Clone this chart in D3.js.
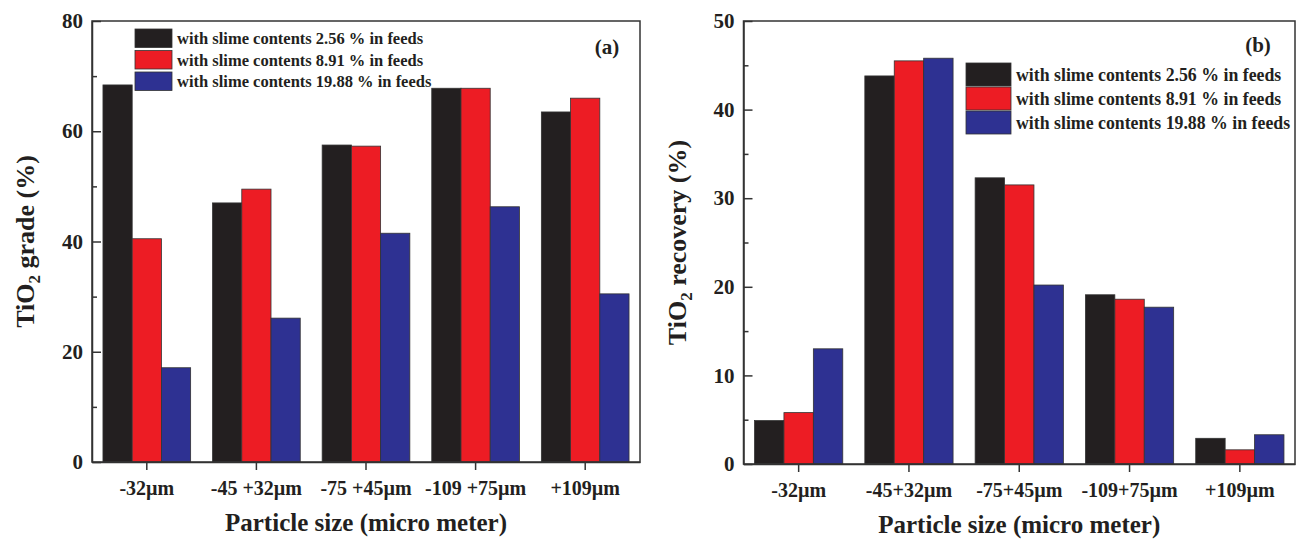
<!DOCTYPE html>
<html>
<head>
<meta charset="utf-8">
<script src="https://cdn.jsdelivr.net/npm/d3@7"></script>
<style>
  body { margin: 0; background: #fff; }
  svg { display: block; font-family: "Liberation Serif", "Times New Roman", serif; font-weight: bold; }
</style>
</head>
<body>
<svg id="chart" width="1298" height="539"></svg>
<script>
// legend texts and bar colours
const seriesLabels = ["with slime contents 2.56 % in feeds", "with slime contents 8.91 % in feeds", "with slime contents 19.88 % in feeds"];
const seriesColors = ["#231f20", "#ed1c24", "#2e3192"];

// panel (a) - TiO2 grade
const sizesA = ["-32µm", "-45 +32µm", "-75 +45µm", "-109 +75µm", "+109µm"];
const grade256 = [68.4, 47.0, 57.5, 67.8, 63.5];
const grade891 = [40.5, 49.5, 57.3, 67.8, 66.0];
const grade1988 = [17.1, 26.1, 41.5, 46.3, 30.5];
const gradeTicks = [0, 20, 40, 60, 80];
const gradeMinor = [10, 30, 50, 70];

// panel (b) - TiO2 recovery
const sizesB = ["-32µm", "-45+32µm", "-75+45µm", "-109+75µm", "+109µm"];
const recovery256 = [4.9, 43.8, 32.3, 19.1, 2.9];
const recovery891 = [5.8, 45.5, 31.5, 18.6, 1.6];
const recovery1988 = [13.0, 45.8, 20.2, 17.7, 3.3];
const recoveryTicks = [0, 10, 20, 30, 40, 50];
const recoveryMinor = [5, 15, 25, 35, 45];

const svg = d3.select("#chart");
const ink = "#333";

function drawPanel(p) {
  const g = svg.append("g");
  // scales
  const x0 = d3.scaleBand().domain(p.cats).range([p.left, p.right])
    .paddingInner(0.2).paddingOuter(0.1);
  const x1 = d3.scaleBand().domain(d3.range(p.series.length)).range([0, x0.bandwidth()]);
  const y = d3.scaleLinear().domain([0, p.yMax]).range([p.bottom, p.top]);

  // bars
  p.series.forEach((vals, s) => {
    g.append("g").selectAll("rect").data(vals).join("rect")
      .attr("x", (d, i) => x0(p.cats[i]) + x1(s))
      .attr("y", d => y(d))
      .attr("width", x1.bandwidth())
      .attr("height", d => y(0) - y(d))
      .attr("fill", seriesColors[s])
      .attr("stroke", ink).attr("stroke-width", 0.8);
  });

  // y axis, ticks pointing inward
  const yAxis = g.append("g").attr("transform", `translate(${p.left},0)`)
    .call(d3.axisLeft(y).tickValues(p.ticks).tickSize(-9).tickSizeOuter(0).tickPadding(9));
  yAxis.selectAll("text").attr("font-size", 21).attr("font-family", null).attr("fill", "#231f20");
  yAxis.attr("font-family", null);
  g.append("g").attr("transform", `translate(${p.left},0)`)
    .call(d3.axisLeft(y).tickValues(p.minor).tickSize(-5).tickSizeOuter(0).tickFormat(""))
    .select(".domain").remove();

  // x axis
  const xAxis = g.append("g").attr("transform", `translate(0,${p.bottom})`)
    .call(d3.axisBottom(x0).tickSize(8).tickSizeOuter(0).tickPadding(11));
  xAxis.attr("font-family", null);
  xAxis.selectAll("text").attr("font-size", 20).attr("fill", "#231f20");

  g.selectAll(".tick line, .domain").attr("stroke", ink).attr("stroke-width", 1.5);

  // frame
  g.append("rect").attr("x", p.left).attr("y", p.top)
    .attr("width", p.right - p.left).attr("height", p.bottom - p.top)
    .attr("fill", "none").attr("stroke", ink).attr("stroke-width", 1.5);

  // axis titles
  g.append("text").attr("x", (p.left + p.right) / 2).attr("y", p.bottom + 69)
    .attr("text-anchor", "middle").attr("font-size", 25).attr("fill", "#231f20")
    .text("Particle size (micro meter)");
  const yt = g.append("text")
    .attr("transform", `translate(${p.titleX},${(p.top + p.bottom) / 2}) rotate(-90)`)
    .attr("text-anchor", "middle").attr("font-size", 26).attr("fill", "#231f20");
  yt.append("tspan").text("TiO");
  yt.append("tspan").attr("font-size", 17).attr("dy", 6).text("2");
  yt.append("tspan").attr("dy", -6).text(" " + p.yTitle);

  // panel letter
  g.append("text").attr("x", p.tagX).attr("y", p.tagY)
    .attr("text-anchor", "middle").attr("font-size", 21).attr("fill", "#231f20").text(p.tag);

  // legend
  const lg = g.append("g").attr("transform", `translate(${p.legX},${p.legY})`);
  seriesLabels.forEach((lab, s) => {
    lg.append("rect").attr("x", 0).attr("y", s * p.legStep)
      .attr("width", p.boxW).attr("height", p.boxH)
      .attr("fill", seriesColors[s]).attr("stroke", ink).attr("stroke-width", 0.8);
    lg.append("text").attr("x", p.boxW + 5).attr("y", s * p.legStep + p.boxH / 2)
      .attr("dy", "0.35em").attr("font-size", p.legFont).attr("fill", "#231f20").text(lab);
  });
}

drawPanel({
  cats: sizesA, series: [grade256, grade891, grade1988], yMax: 80,
  ticks: gradeTicks, minor: gradeMinor,
  left: 92, right: 640, top: 21, bottom: 462,
  titleX: 34, yTitle: "grade (%)", tag: "(a)", tagX: 607, tagY: 54,
  legX: 135, legY: 29, legStep: 21.5, boxW: 37, boxH: 18.5, legFont: 16.5
});

drawPanel({
  cats: sizesB, series: [recovery256, recovery891, recovery1988], yMax: 50,
  ticks: recoveryTicks, minor: recoveryMinor,
  left: 743.5, right: 1295, top: 21, bottom: 464,
  titleX: 686, yTitle: "recovery (%)", tag: "(b)", tagX: 1258, tagY: 52,
  legX: 966, legY: 63, legStep: 24, boxW: 45, boxH: 23, legFont: 17.8
});
</script>
</body>
</html>
